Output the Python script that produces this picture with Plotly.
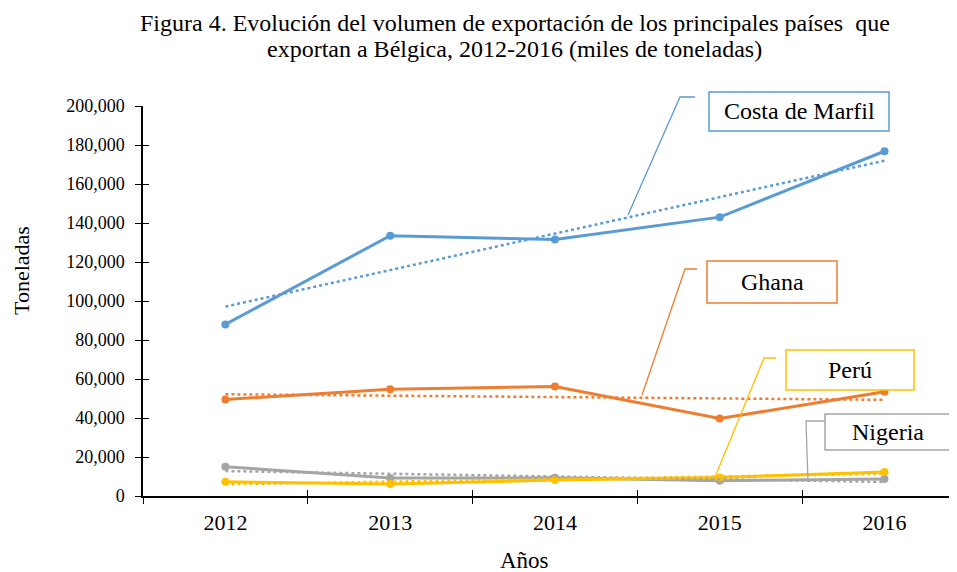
import plotly.graph_objects as go
import numpy as np

years = ["2012", "2013", "2014", "2015", "2016"]
costa = [88000, 133500, 131500, 143000, 176800]
ghana = [49500, 54800, 56200, 39700, 53500]
nigeria = [15000, 9200, 9300, 7800, 8700]
peru = [7300, 6100, 8200, 9500, 12300]
y_ticks = [0, 20000, 40000, 60000, 80000, 100000, 120000, 140000, 160000, 180000, 200000]

series = [
    ("Costa de Marfil", costa, "#5B9BD5"),
    ("Ghana", ghana, "#ED7D31"),
    ("Nigeria", nigeria, "#A5A5A5"),
    ("Perú", peru, "#FFC000"),
]

FONT = "Liberation Serif, Times New Roman, serif"
# page has an 8px body margin; figure drawn at (8, 8)
OFF = 8
W, H = 957 - OFF, 572 - OFF
PL, PR, PT, PB = 143, 957, 106, 496  # plot area in page pixels


def px(x):
    return (x - PL) / (PR - PL)


def py(y):
    return (PB - y) / (PB - PT)


fig = go.Figure()
for name, vals, col in series:
    fig.add_trace(go.Scatter(x=years, y=vals, mode="lines+markers", name=name,
                             line=dict(color=col, width=3),
                             marker=dict(color=col, size=8), showlegend=False))

# linear trendlines (least squares on series values)
idx = np.arange(len(years))
for name, vals, col in series:
    k, b = np.polyfit(idx, np.array(vals, dtype=float), 1)
    fig.add_trace(go.Scatter(x=years, y=list(k * idx + b), mode="lines",
                             line=dict(color=col, width=2.5, dash="dot"),
                             showlegend=False, hoverinfo="skip"))

# invisible trace for overlay axes (to draw crossing ticks)
fig.add_trace(go.Scatter(x=years, y=[None] * len(years), xaxis="x2", yaxis="y2",
                         showlegend=False, hoverinfo="skip"))

XR = [-0.5, 4.44]
fig.update_layout(
    width=W, height=H,
    margin=dict(l=PL - OFF, r=W - (PR - OFF), t=PT - OFF, b=H - (PB - OFF), pad=0),
    paper_bgcolor="white", plot_bgcolor="white",
    xaxis=dict(type="category", range=XR, tickson="boundaries",
               ticks="outside", ticklen=6, tickwidth=1.3, tickcolor="#000",
               showline=True, linecolor="#000", linewidth=1.5, showgrid=False,
               tickfont=dict(family=FONT, size=22, color="#000"),
               ticklabelstandoff=6, zeroline=False),
    yaxis=dict(range=[0, 200000], tickvals=y_ticks, tickformat=",",
               ticks="outside", ticklen=6, tickwidth=1.3, tickcolor="#000",
               showline=True, linecolor="#000", linewidth=1.5, showgrid=False,
               tickfont=dict(family=FONT, size=18, color="#000"),
               ticklabelstandoff=7, zeroline=False),
    xaxis2=dict(type="category", range=XR, tickson="boundaries",
                overlaying="x", anchor="y2", ticks="inside", ticklen=6,
                tickwidth=1.3, tickcolor="#000", showticklabels=False,
                showline=False, showgrid=False, zeroline=False,
                categoryorder="array", categoryarray=years),
    yaxis2=dict(range=[0, 200000], tickvals=y_ticks, overlaying="y", anchor="x2",
                ticks="inside", ticklen=6, tickwidth=1.3, tickcolor="#000",
                showticklabels=False, showline=False, showgrid=False, zeroline=False),
)

annos = [
    dict(text="Figura 4. Evolución del volumen de exportación de los principales países  que",
         x=px(515), y=py(23), xanchor="center", yanchor="middle",
         font=dict(family=FONT, size=24, color="#000")),
    dict(text="exportan a Bélgica, 2012-2016 (miles de toneladas)",
         x=px(514), y=py(49), xanchor="center", yanchor="middle",
         font=dict(family=FONT, size=24, color="#000")),
    dict(text="Años", x=px(524), y=py(560), xanchor="center", yanchor="middle",
         font=dict(family=FONT, size=23, color="#000")),
    dict(text="Toneladas", x=px(21), y=py(271), xanchor="center", yanchor="middle",
         textangle=-90, borderpad=0, font=dict(family=FONT, size=22, color="#000")),
]

# callout boxes: (label, color, box left, top, right, bottom, leader path points) in page px
callouts = [
    ("Costa de Marfil", "#5B9BD5", 709, 92, 889, 131, [(695, 97), (680, 97), (628, 215)]),
    ("Ghana", "#ED7D31", 707, 261, 837, 303, [(697, 269), (685, 269), (642, 395)]),
    ("Perú", "#FFC000", 786, 350, 914, 390, [(776, 358), (764, 358), (715, 477)]),
    ("Nigeria", "#A5A5A5", 825, 414, 951, 450, [(825, 421), (806, 421), (808, 482)]),
]
shapes = []
for label, col, x0, y0, x1, y1, pts in callouts:
    shapes.append(dict(type="rect", xref="paper", yref="paper",
                       x0=px(x0), x1=px(x1), y0=py(y1), y1=py(y0),
                       line=dict(color=col, width=1.5), fillcolor="white", layer="above"))
    path = "M " + " L ".join(f"{px(a):.5f},{py(b):.5f}" for a, b in pts)
    shapes.append(dict(type="path", xref="paper", yref="paper", path=path,
                       line=dict(color=col, width=1.3), layer="above"))
    annos.append(dict(text=label, x=px((x0 + x1) / 2), y=py((y0 + y1) / 2),
                      xanchor="center", yanchor="middle",
                      font=dict(family=FONT, size=24, color="#000")))

for a in annos:
    a.setdefault("xref", "paper")
    a.setdefault("yref", "paper")
    a["showarrow"] = False
fig.update_layout(annotations=annos, shapes=shapes)

fig.write_html("out.html")
